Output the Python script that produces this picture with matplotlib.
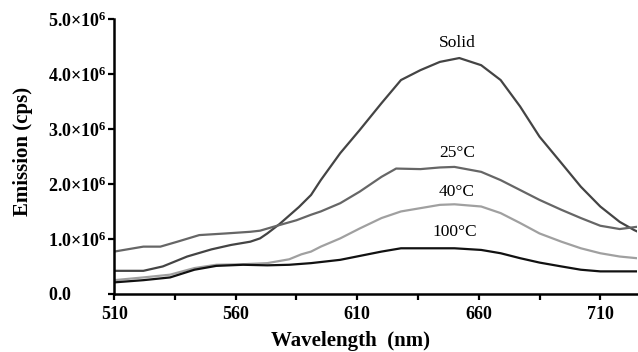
import numpy as np
import matplotlib
matplotlib.use("Agg")
import matplotlib.pyplot as plt
from matplotlib.ticker import FixedLocator, FuncFormatter

plt.rcParams['font.family'] = ['Liberation Serif', 'DejaVu Serif']
plt.rcParams['mathtext.fontset'] = 'custom'
plt.rcParams['mathtext.rm'] = 'Liberation Serif'
plt.rcParams['mathtext.bf'] = 'Liberation Serif:bold'

# emission spectra (wavelength nm, counts in 1e6 cps)
wl_solid = [510, 522, 530, 540, 550, 558, 566, 570, 573, 578, 586, 591, 595,
            603, 611, 620, 628, 636, 644, 652, 661, 669, 677, 685, 694, 702,
            710, 718, 724, 725]
em_solid = [0.42, 0.42, 0.50, 0.68, 0.81, 0.89, 0.95, 1.01, 1.10, 1.27, 1.58,
            1.80, 2.07, 2.56, 2.98, 3.47, 3.89, 4.07, 4.22, 4.29, 4.16, 3.89,
            3.41, 2.86, 2.38, 1.95, 1.59, 1.31, 1.16, 1.14]

wl_25 = [510, 522, 529, 536, 545, 556, 566, 570, 577, 585, 591, 595, 603,
         611, 620, 626, 636, 644, 650, 661, 669, 677, 685, 694, 702, 710,
         718, 725]
em_25 = [0.77, 0.86, 0.86, 0.95, 1.07, 1.10, 1.13, 1.15, 1.24, 1.34, 1.44,
         1.50, 1.65, 1.86, 2.13, 2.28, 2.27, 2.30, 2.31, 2.22, 2.07, 1.89,
         1.71, 1.53, 1.38, 1.24, 1.18, 1.22]

wl_40 = [510, 522, 533, 543, 552, 563, 573, 582, 587, 591, 595, 603, 611,
         620, 628, 636, 644, 650, 661, 669, 677, 685, 694, 702, 710, 718, 725]
em_40 = [0.25, 0.30, 0.35, 0.47, 0.53, 0.54, 0.56, 0.63, 0.72, 0.77, 0.86,
         1.01, 1.19, 1.38, 1.50, 1.56, 1.62, 1.63, 1.59, 1.47, 1.29, 1.10,
         0.95, 0.83, 0.74, 0.68, 0.65]

wl_100 = [510, 522, 533, 543, 552, 563, 573, 582, 591, 603, 620, 628, 644,
          650, 661, 669, 677, 685, 694, 702, 710, 718, 725]
em_100 = [0.21, 0.25, 0.30, 0.44, 0.51, 0.53, 0.52, 0.53, 0.56, 0.62, 0.77,
          0.83, 0.83, 0.83, 0.80, 0.74, 0.65, 0.57, 0.50, 0.44, 0.41, 0.41,
          0.41]

x_ticks = [510, 560, 610, 660, 710]
y_ticks = [0, 1, 2, 3, 4, 5]

fig = plt.figure(figsize=(6.38, 3.52), dpi=100)
ax = fig.add_axes([0.179, 0.165, 0.819, 0.781])

ax.plot(wl_solid, em_solid, color='#444444', lw=1.6)
ax.plot(wl_25, em_25, color='#666666', lw=1.6)
ax.plot(wl_40, em_40, color='#a0a0a0', lw=1.6)
ax.plot(wl_100, em_100, color='#111111', lw=1.6)

ax.text(651, 4.56, 'Solid', ha='center', va='center', fontsize=12.5)
ax.text(651, 2.56, '25°C', ha='center', va='center', fontsize=12.5)
ax.text(651, 1.86, '40°C', ha='center', va='center', fontsize=12.5)
ax.text(650, 1.13, '100°C', ha='center', va='center', fontsize=12.5)

ax.set_xlim(510, 725)
ax.set_ylim(0, 5)
ax.set_xticks(x_ticks)
ax.xaxis.set_minor_locator(FixedLocator([535, 585, 635, 685]))
ax.set_yticks(y_ticks)


def yfmt(v, pos):
    if v == 0:
        return r'$\mathbf{0.0}$'
    return r'$\mathbf{%.1f{\times}10^{6}}$' % v


ax.yaxis.set_major_formatter(FuncFormatter(yfmt))
ax.tick_params(axis='y', which='major', labelsize=13, width=1.6,
               length=4, direction='out', pad=44)
ax.tick_params(axis='x', which='major', labelsize=13, width=1.6,
               length=4, direction='out', pad=5)
ax.tick_params(axis='x', which='minor', width=1.6, length=4, direction='out')
for lab in ax.get_xticklabels():
    lab.set_fontweight('bold')
for lab in ax.get_yticklabels():
    lab.set_horizontalalignment('left')

for s in ['top', 'right']:
    ax.spines[s].set_visible(False)
for s in ['left', 'bottom']:
    ax.spines[s].set_linewidth(1.8)

ax.set_xlabel('Wavelength  (nm)', fontsize=15, fontweight='bold')
ax.set_ylabel('Emission (cps)', fontsize=15, fontweight='bold')
ax.xaxis.set_label_coords(0.453, -0.135)
ax.yaxis.set_label_coords(-0.155, 0.52)

fig.savefig('out.png', dpi=100)
